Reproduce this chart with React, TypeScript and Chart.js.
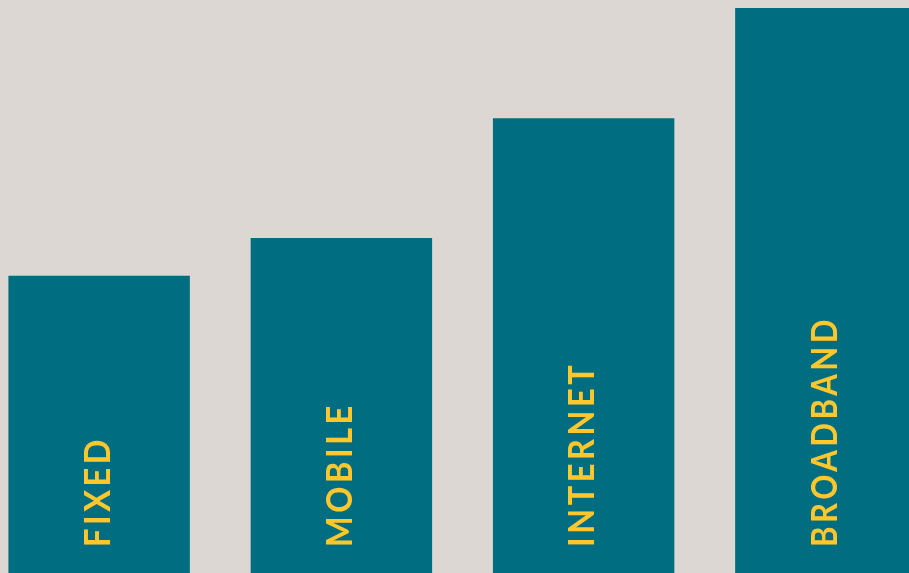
import React, { useEffect, useRef } from "react";
import { Chart, registerables } from "chart.js";

Chart.register(...registerables);

const categories = ["FIXED", "MOBILE", "INTERNET", "BROADBAND"];
const values = [52.6, 59.3, 80.5, 100];
const yMax = 100;

const BG = "#DCD7D2";
const BAR = "#006E80";
const LABEL = "#FFC72C";

const labelPlugin = {
  id: "barLabels",
  afterDatasetsDraw(chart: any) {
    const ctx = chart.ctx as CanvasRenderingContext2D;
    const meta = chart.getDatasetMeta(0);
    const fontSize = 36;
    const squeeze = 0.9;
    ctx.save();
    ctx.fillStyle = LABEL;
    ctx.font = `700 ${fontSize}px Lato`;
    (ctx as any).letterSpacing = "4px";
    ctx.textAlign = "left";
    ctx.textBaseline = "alphabetic";
    meta.data.forEach((bar: any, i: number) => {
      ctx.save();
      ctx.translate(bar.x, chart.chartArea.bottom - 26);
      ctx.rotate(-Math.PI / 2);
      ctx.scale(squeeze, 1);
      ctx.fillText(categories[i], 0, fontSize * 0.3, 231 / squeeze);
      ctx.restore();
    });
    ctx.restore();
  },
};

export default function App() {
  const ref = useRef<HTMLCanvasElement>(null);
  useEffect(() => {
    document.body.style.background = BG;
    const chart = new Chart(ref.current!, {
      type: "bar",
      data: {
        labels: categories,
        datasets: [
          {
            data: values,
            backgroundColor: BAR,
            borderWidth: 0,
            barPercentage: 0.749,
            categoryPercentage: 1,
          },
        ],
      },
      options: {
        animation: false,
        responsive: false,
        maintainAspectRatio: false,
        layout: { padding: 0 },
        plugins: { legend: { display: false }, tooltip: { enabled: false } },
        scales: {
          x: { display: false },
          y: { display: false, min: 0, max: yMax },
        },
      },
      plugins: [labelPlugin],
    });
    return () => chart.destroy();
  }, []);
  return (
    <div
      style={{
        position: "fixed",
        left: 0,
        top: 0,
        width: "100vw",
        height: "100vh",
        overflow: "hidden",
        background: BG,
      }}
    >
      <canvas
        ref={ref}
        width={969}
        height={565}
        style={{ position: "absolute", left: -22.5, top: 8, width: 969, height: 565 }}
      />
    </div>
  );
}
